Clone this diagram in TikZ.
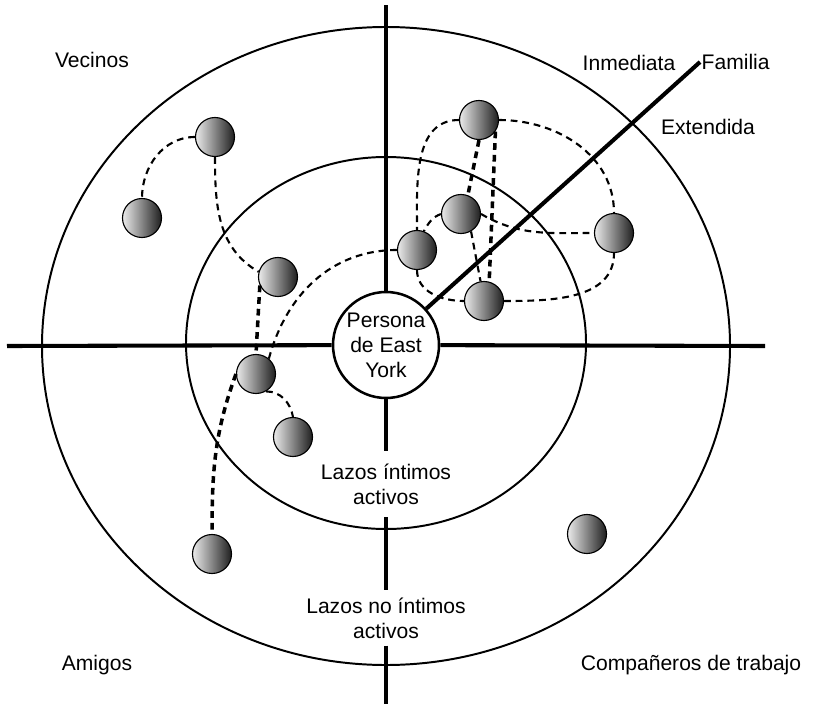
\documentclass[tikz,border=0pt]{standalone}
\usepackage{fontspec}
\setmainfont{Liberation Sans}
\begin{document}
\begin{tikzpicture}[x=0.25mm, y=0.25mm,
    ball/.style={draw, circle, line width=0.8pt, minimum size=9.75mm, inner sep=0pt, left color=black!8, right color=black!88},
    tie/.style={line width=1.5pt, dash pattern=on 4.8pt off 3.5pt},
    bold tie/.style={tie, line width=2.5pt},
    axis/.style={line width=2.9pt},
    ring/.style={line width=1.4pt},
    lbl/.style={font=\fontsize{15}{17.7}\selectfont, align=center}]
    \useasboundingbox (0,0) rectangle (817,704);

    % rings
    \draw[ring] (386,358) ellipse [x radius=344, y radius=319];
    \draw[ring] (386,361) ellipse [x radius=200, y radius=186];

    \node[draw, circle, line width=1.8pt, minimum size=26.5mm, inner sep=0pt, lbl] (ego) at (386,359) {Persona\\de East\\York};
    \node[lbl, inner ysep=9pt] (close) at (386,220) {Lazos íntimos\\activos};
    \node[lbl, inner ysep=5pt] (loose) at (386,86) {Lazos no íntimos\\activos};

    \coordinate (top) at (386,699);
    \coordinate (bottom) at (386,0);
    \coordinate (left) at (7,358);
    \coordinate (right) at (765,358);
    \coordinate (fam) at (700,642);

    \draw[axis] (ego) -- (top); \draw[axis] (ego) -- (left); \draw[axis] (ego) -- (right);
    \draw[axis] (ego) -- (close); \draw[axis] (close) -- (loose); \draw[axis] (loose) -- (bottom);
    \draw[axis] (ego) -- (fam);

    \node[lbl] (vecinos) at (92,644) {Vecinos};
    \node[lbl] (amigos) at (97,39) {Amigos};
    \node[lbl] (trabajo) at (691,39) {Compañeros de trabajo};
    \node[lbl] (inmediata) at (629,641) {Inmediata};
    \node[lbl, anchor=west, inner xsep=1pt] (familia) at (fam) {Familia};
    \node[lbl] (extendida) at (708,577) {Extendida};

    % people
    \node[ball] (v1) at (215,567) {};
    \node[ball] (v2) at (142,486) {};
    \node[ball] (v3) at (278,427) {};
    \node[ball] (a1) at (256,330) {};
    \node[ball] (a2) at (293,267) {};
    \node[ball] (a3) at (212,150) {};
    \node[ball] (f1) at (479,584) {};
    \node[ball] (f2) at (461,490) {};
    \node[ball] (f3) at (417,454) {};
    \node[ball] (f4) at (614,471) {};
    \node[ball] (f5) at (484,403) {};
    \node[ball] (c1) at (587,170) {};

    % ties
    \draw[tie] (v1.west) to[out=180, in=90] (v2.north);
    \draw[tie] (v1.south) to[out=-90, in=150] (v3.165);
    \draw[bold tie] (v3.205) -- (a1.north);
    \draw[tie] (f3.west) to[out=180, in=75] (a1.50);
    \draw[tie] (a1.-60) to[out=0, in=100] (a2.north);
    \draw[bold tie] (a1.west) to[out=-110, in=90] (a3.north);

    \draw[tie] (f1.west) to[out=180, in=90] (f3.north);
    \draw[tie] (f1.east) to[out=0, in=90] (f4.north);
    \draw[bold tie] (f1.south) -- (f2.70);
    \draw[bold tie] (f1.-35) -- (f5.75);
    \draw[tie] (f2.west) to[out=200, in=60] (f3.70);
    \draw[tie] (f2.east) to[out=-30, in=180] (f4.west);
    \draw[tie] (f2.-60) -- (f5.100);
    \draw[tie] (f3.south) to[out=-90, in=180] (f5.west);
    \draw[tie] (f5.east) to[out=0, in=-90] (f4.south);
\end{tikzpicture}
\end{document}
